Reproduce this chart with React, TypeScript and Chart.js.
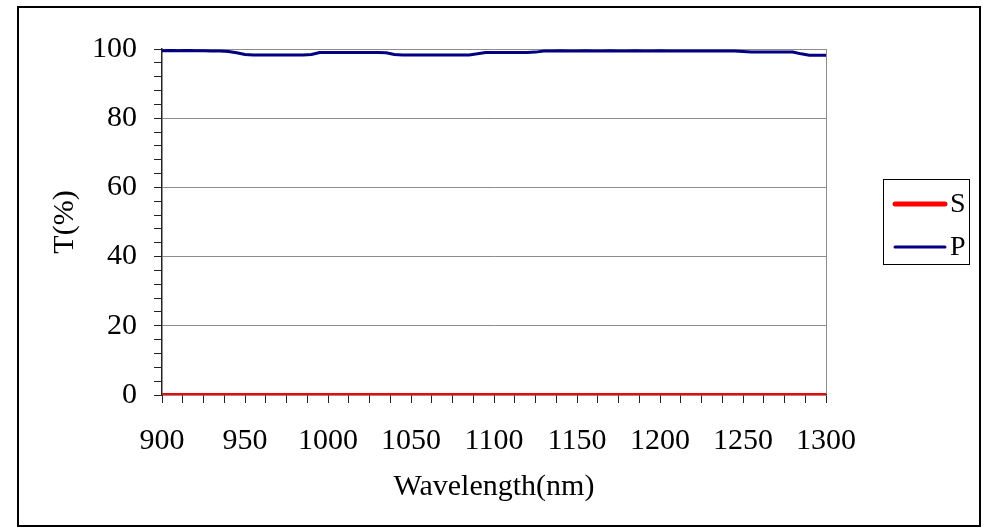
import { useEffect, useRef } from "react";
import { Chart, registerables } from "chart.js";

Chart.register(...registerables);

const wavelengths = [
  900, 905, 910, 915, 920, 925, 930, 935, 940, 945,
  950, 955, 960, 965, 970, 975, 980, 985, 990, 995,
  1000, 1005, 1010, 1015, 1020, 1025, 1030, 1035, 1040, 1045,
  1050, 1055, 1060, 1065, 1070, 1075, 1080, 1085, 1090, 1095,
  1100, 1105, 1110, 1115, 1120, 1125, 1130, 1135, 1140, 1145,
  1150, 1155, 1160, 1165, 1170, 1175, 1180, 1185, 1190, 1195,
  1200, 1205, 1210, 1215, 1220, 1225, 1230, 1235, 1240, 1245,
  1250, 1255, 1260, 1265, 1270, 1275, 1280, 1285, 1290, 1295,
  1300,
];

const sValues = [
  0, 0, 0, 0, 0, 0, 0, 0, 0, 0,
  0, 0, 0, 0, 0, 0, 0, 0, 0, 0,
  0, 0, 0, 0, 0, 0, 0, 0, 0, 0,
  0, 0, 0, 0, 0, 0, 0, 0, 0, 0,
  0, 0, 0, 0, 0, 0, 0, 0, 0, 0,
  0, 0, 0, 0, 0, 0, 0, 0, 0, 0,
  0, 0, 0, 0, 0, 0, 0, 0, 0, 0,
  0, 0, 0, 0, 0, 0, 0, 0, 0, 0,
  0,
];

const pValues = [
  99.5, 99.6, 99.5, 99.6, 99.5, 99.5, 99.4, 99.4, 99.3, 98.9,
  98.4, 98.3, 98.3, 98.3, 98.3, 98.3, 98.3, 98.3, 98.4, 99.0,
  99.0, 99.0, 99.0, 99.0, 99.0, 99.0, 99.0, 98.9, 98.4, 98.3,
  98.3, 98.3, 98.3, 98.3, 98.3, 98.3, 98.3, 98.3, 98.6, 99.0,
  99.0, 99.0, 99.0, 99.0, 99.0, 99.1, 99.4, 99.4, 99.5, 99.4,
  99.4, 99.5, 99.4, 99.4, 99.5, 99.4, 99.4, 99.5, 99.4, 99.4,
  99.5, 99.4, 99.4, 99.4, 99.4, 99.4, 99.4, 99.4, 99.4, 99.4,
  99.3, 99.1, 99.1, 99.1, 99.1, 99.1, 99.1, 98.6, 98.2, 98.2,
  98.2,
];

const seriesNames = ["S", "P"];
const seriesColors = ["#FF0000", "#000080"];
const seriesWidths = [4, 3];

const xTitle = "Wavelength(nm)";
const yTitle = "T(%)";
const xMin = 900;
const xMax = 1300;
const xLabelStep = 50;
const xMinorStep = 12.5;
const yMin = 0;
const yMax = 100;
const yLabelStep = 20;
const yMinorStep = 4;

const FONT = "'Liberation Serif', 'Times New Roman', serif";

const legendPlugin = {
  id: "boxLegend",
  afterDraw(chart: any) {
    const ctx = chart.ctx;
    ctx.save();
    ctx.strokeStyle = "#000";
    ctx.lineWidth = 1;
    ctx.strokeRect(883.5, 179.5, 86, 85);
    const rows = [204, 247];
    chart.data.datasets.forEach((ds: any, i: number) => {
      const y = rows[i];
      ctx.beginPath();
      ctx.strokeStyle = ds.borderColor;
      ctx.lineWidth = ds.borderWidth + (i === 0 ? 1 : 0);
      ctx.lineCap = "round";
      ctx.moveTo(895, y);
      ctx.lineTo(945, y);
      ctx.stroke();
      ctx.fillStyle = "#000";
      ctx.font = `28px ${FONT}`;
      ctx.textAlign = "left";
      ctx.textBaseline = "middle";
      ctx.fillText(ds.label, 950, y + 1);
    });
    ctx.restore();
  },
};

export default function App() {
  const canvasRef = useRef<HTMLCanvasElement | null>(null);

  useEffect(() => {
    const canvas = canvasRef.current;
    if (!canvas) return;
    const datasets = [sValues, pValues].map((vals, i) => ({
      label: seriesNames[i],
      data: wavelengths.map((w, j) => ({ x: w, y: vals[j] })),
      borderColor: seriesColors[i],
      backgroundColor: seriesColors[i],
      borderWidth: seriesWidths[i],
      pointRadius: 0,
      tension: 0,
      fill: false,
    }));

    const chart = new Chart(canvas, {
      type: "line",
      data: { datasets },
      options: {
        responsive: false,
        animation: false,
        devicePixelRatio: 1,
        layout: { padding: { left: 0, top: 49, right: 163, bottom: 0 } },
        plugins: {
          legend: { display: false },
          tooltip: { enabled: false },
          title: { display: false },
        },
        scales: {
          x: {
            type: "linear",
            min: xMin,
            max: xMax,
            afterFit: (s: any) => {
              s.height = 134;
            },
            ticks: {
              stepSize: xMinorStep,
              autoSkip: false,
              maxRotation: 0,
              minRotation: 0,
              padding: 20,
              color: "#000",
              font: { family: FONT, size: 30 },
              callback: (v: any) => (Number(v) % xLabelStep === 0 ? String(v) : ""),
            },
            grid: {
              color: (c: any) =>
                c.tick && c.tick.value === xMax ? "#8c8c8c" : "rgba(0,0,0,0)",
              tickColor: "#222",
              tickLength: 8,
              lineWidth: 1,
            },
            border: { color: "#222", width: 1.5 },
            title: {
              display: true,
              text: xTitle,
              color: "#000",
              font: { family: FONT, size: 30 },
              padding: { top: 0, bottom: 24 },
            },
          },
          y: {
            min: yMin,
            max: yMax,
            afterFit: (s: any) => {
              s.width = 162;
            },
            ticks: {
              stepSize: yMinorStep,
              autoSkip: false,
              padding: 17,
              color: "#000",
              font: { family: FONT, size: 30 },
              callback: (v: any) => (Number(v) % yLabelStep === 0 ? String(v) : ""),
            },
            grid: {
              color: (c: any) =>
                c.tick && c.tick.value % yLabelStep === 0 && c.tick.value > yMin
                  ? "#8c8c8c"
                  : "rgba(0,0,0,0)",
              tickColor: "#222",
              tickLength: 8,
              lineWidth: 1,
            },
            border: { color: "#222", width: 1.5 },
            title: {
              display: true,
              text: yTitle,
              color: "#000",
              font: { family: FONT, size: 30 },
              padding: { top: 47, bottom: 0 },
            },
          },
        },
      },
      plugins: [legendPlugin],
    });
    return () => chart.destroy();
  }, []);

  return (
    <div style={{ position: "absolute", left: 0, top: 0, width: 989, height: 529, background: "#fff" }}>
      <div
        style={{
          position: "absolute",
          left: 17,
          top: 6,
          width: 964,
          height: 521,
          boxSizing: "border-box",
          border: "2px solid #000",
        }}
      />
      <canvas
        ref={canvasRef}
        width={989}
        height={529}
        style={{ position: "absolute", left: 0, top: 0, width: 989, height: 529, display: "block" }}
      />
    </div>
  );
}
